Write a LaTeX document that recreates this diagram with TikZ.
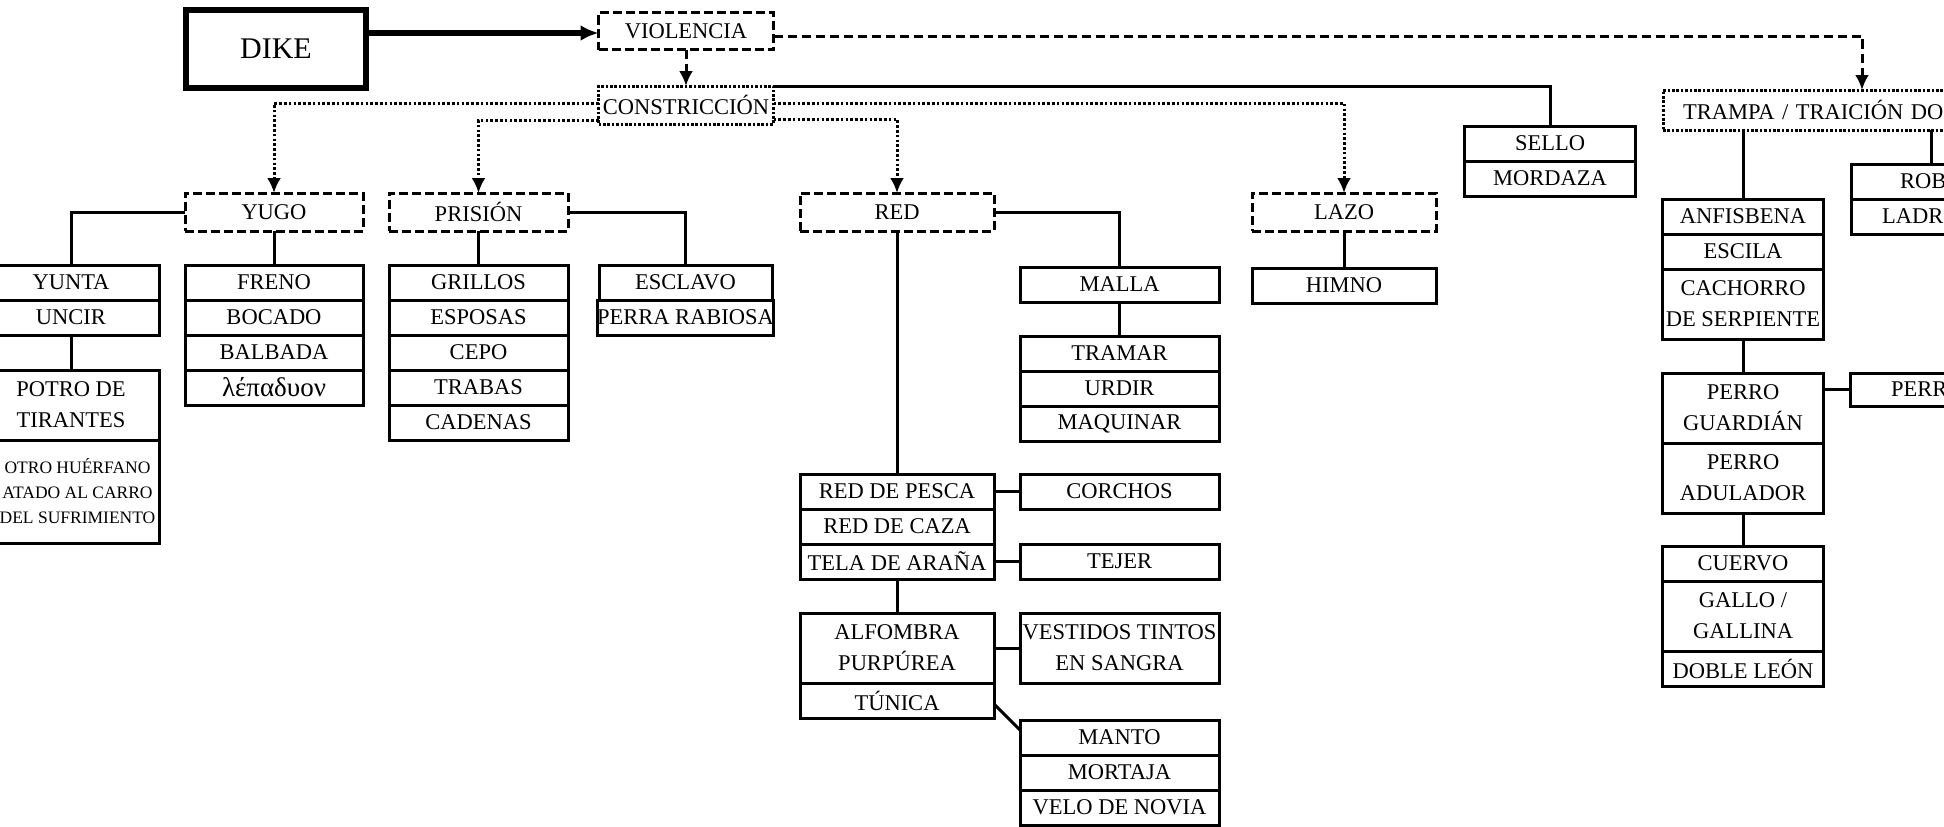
\documentclass[tikz,border=0pt]{standalone}
\usepackage{fontspec}
\setmainfont{Liberation Serif}
\usetikzlibrary{arrows.meta,positioning}

\begin{document}
\begin{tikzpicture}[
  x=1pt,y=-1pt,
  cell/.style={draw,line width=3pt,inner sep=0pt,outer sep=0pt,align=center,minimum height=35pt,font=\fontsize{22.5}{31}\selectfont},
  dashbox/.style={cell,dash pattern=on 9pt off 4pt,minimum height=38pt},
  dotbox/.style={cell,dash pattern=on 2.6pt off 1.8pt,minimum height=38pt},
  twoline/.style={minimum height=70pt},
  link/.style={line width=3pt},
  dashlink/.style={line width=3pt,dash pattern=on 9pt off 5pt,-{Latex[length=15pt,width=14pt]}},
  dotlink/.style={line width=3pt,dash pattern=on 2.6pt off 2.2pt,-{Latex[length=15pt,width=14pt]}}
]
\useasboundingbox (0,0) rectangle (1944,827);
\clip (0,0) rectangle (1944,827);

% top
\node[cell,line width=5.5pt,minimum width=180pt,minimum height=78pt,font=\fontsize{30}{36}\selectfont] (dike) at (276,49) {DIKE};
\node[dashbox,minimum width=175pt,minimum height=37pt] (viol) at (686,31) {VIOLENCIA};
\node[dotbox,minimum width=175pt] (constr) at (686,105) {CONSTRICCIÓN};

% first row
\node[dashbox,minimum width=178pt] (yugo) at (274,212) {YUGO};
\node[dashbox,minimum width=179pt] (prision) at (478.5,212) {PRISIÓN};
\node[dashbox,minimum width=194pt] (red) at (897,212) {RED};
\node[dashbox,minimum width=184pt] (lazo) at (1344,212) {LAZO};
\node[cell,minimum width=171pt,anchor=north] (sello) at (1550,126) {SELLO};
\node[cell,minimum width=171pt,below=0pt of sello] (mordaza) {MORDAZA};
\node[dotbox,anchor=north west,align=left,inner xsep=20pt,text width=300pt,minimum height=40pt] (trampa) at (1663,90) {TRAMPA / TRAICIÓN DO};

% yugo
\node[cell,minimum width=176pt,anchor=north] (yunta) at (71,265) {YUNTA};
\node[cell,minimum width=176pt,below=0pt of yunta] (uncir) {UNCIR};
\node[cell,minimum width=176pt,twoline,anchor=north] (potro) at (71,370) {POTRO DE\\TIRANTES};
\node[cell,minimum width=163pt,minimum height=103pt,anchor=north east,font=\fontsize{17.5}{25}\selectfont] (huerfano) at (potro.south east) {OTRO HUÉRFANO\\ATADO AL CARRO\\DEL SUFRIMIENTO};
\node[cell,minimum width=178pt,anchor=north] (freno) at (274,265) {FRENO};
\node[cell,minimum width=178pt,below=0pt of freno] (bocado) {BOCADO};
\node[cell,minimum width=178pt,below=0pt of bocado] (balbada) {BALBADA};
\node[cell,minimum width=178pt,below=0pt of balbada,font=\fontsize{27}{31}\selectfont] (lepadon) {λέπαδυον};

% prision
\node[cell,minimum width=179pt,anchor=north] (grillos) at (478.5,265) {GRILLOS};
\node[cell,minimum width=179pt,below=0pt of grillos] (esposas) {ESPOSAS};
\node[cell,minimum width=179pt,below=0pt of esposas] (cepo) {CEPO};
\node[cell,minimum width=179pt,below=0pt of cepo] (trabas) {TRABAS};
\node[cell,minimum width=179pt,below=0pt of trabas] (cadenas) {CADENAS};
\node[cell,minimum width=173pt,anchor=north] (esclavo) at (685.5,265) {ESCLAVO};
\node[cell,minimum width=173pt,below=0pt of esclavo] (perra) {PERRA RABIOSA};

% red
\node[cell,minimum width=199pt,anchor=north] (malla) at (1119.5,267) {MALLA};
\node[cell,minimum width=199pt,anchor=north] (tramar) at (1119.5,336) {TRAMAR};
\node[cell,minimum width=199pt,below=0pt of tramar] (urdir) {URDIR};
\node[cell,minimum width=199pt,below=0pt of urdir] (maquinar) {MAQUINAR};
\node[cell,minimum width=194pt,anchor=north] (pesca) at (897,474) {RED DE PESCA};
\node[cell,minimum width=194pt,below=0pt of pesca] (caza) {RED DE CAZA};
\node[cell,minimum width=194pt,below=0pt of caza] (tela) {TELA DE ARAÑA};
\node[cell,minimum width=199pt,right=26pt of pesca] (corchos) {CORCHOS};
\node[cell,minimum width=199pt,right=26pt of tela] (tejer) {TEJER};
\node[cell,minimum width=194pt,twoline,anchor=north] (alfombra) at (897,613) {ALFOMBRA\\PURPÚREA};
\node[cell,minimum width=194pt,below=0pt of alfombra] (tunica) {TÚNICA};
\node[cell,minimum width=199pt,twoline,right=26pt of alfombra] (vestidos) {VESTIDOS TINTOS\\EN SANGRA};
\node[cell,minimum width=199pt,anchor=north] (manto) at (1119.5,720) {MANTO};
\node[cell,minimum width=199pt,below=0pt of manto] (mortaja) {MORTAJA};
\node[cell,minimum width=199pt,below=0pt of mortaja] (velo) {VELO DE NOVIA};

% lazo
\node[cell,minimum width=184pt,anchor=north] (himno) at (1344,268) {HIMNO};

% trampa
\node[cell,minimum width=161pt,anchor=north] (anfis) at (1743,199) {ANFISBENA};
\node[cell,minimum width=161pt,below=0pt of anfis] (escila) {ESCILA};
\node[cell,minimum width=161pt,twoline,below=0pt of escila] (cachorro) {CACHORRO\\DE SERPIENTE};
\node[cell,minimum width=161pt,twoline,anchor=north] (guardian) at (1743,373) {PERRO\\GUARDIÁN};
\node[cell,minimum width=161pt,twoline,below=0pt of guardian] (adulador) {PERRO\\ADULADOR};
\node[cell,minimum width=161pt,anchor=north] (cuervo) at (1743,546) {CUERVO};
\node[cell,minimum width=161pt,twoline,below=0pt of cuervo] (gallo) {GALLO /\\GALLINA};
\node[cell,minimum width=161pt,below=0pt of gallo] (doble) {DOBLE LEÓN};
\node[cell,anchor=north west,align=left,inner xsep=49pt,text width=114pt] (robo) at (1851,164) {ROB};
\node[cell,align=left,inner xsep=31pt,text width=150pt,below=0pt of robo] (ladr) {LADR};
\node[cell,anchor=north west,align=left,inner xsep=41pt,text width=130pt,minimum height=33pt] (perr) at (1850,373) {PERR};

% connectors
\draw[line width=5.5pt,-{Latex[length=18pt,width=16pt]}] ([yshift=-2pt]dike.east |- viol.west) -- ([yshift=-2pt]viol.west);
\draw[dashlink] ([yshift=-5pt]viol.east) -| ([xshift=199pt]trampa.north west);
\draw[dashlink] (viol) -- (constr);
\draw[dotlink] ([yshift=2pt]constr.west) -| (yugo.north);
\draw[dotlink] ([yshift=-15pt]constr.west) -| (prision.north);
\draw[dotlink] ([yshift=2pt]constr.east) -| (lazo.north);
\draw[dotlink] ([yshift=-14pt]constr.east) -| (red.north);
\draw[link] (constr.north east) -| (sello.north);

\draw[link] (yugo.west) -| (yunta.north);
\draw[link] (yugo) -- (freno);
\draw[link] (uncir) -- (potro);
\draw[link] (prision) -- (grillos);
\draw[link] (prision.east) -| (esclavo.north);
\draw[link] (red) -- (pesca);
\draw[link] (red.east) -| (malla.north);
\draw[link] (malla) -- (tramar);
\draw[link] (lazo) -- (himno);
\draw[link] (pesca) -- (corchos);
\draw[link] (tela) -- (tejer);
\draw[link] (tela) -- (alfombra);
\draw[link] (alfombra) -- (vestidos);
\draw[link] ([yshift=-3.5pt]tunica.east) -- ([yshift=-10pt]manto.north west);
\draw[link] ([xshift=80pt]trampa.south west) -- (anfis);
\draw[link] ([xshift=268pt]trampa.south west) -- ([xshift=80pt]robo.north west);
\draw[link] (cachorro) -- (guardian);
\draw[link] (guardian.east |- perr) -- (perr.west);
\draw[link] (adulador) -- (cuervo);
\end{tikzpicture}
\end{document}
